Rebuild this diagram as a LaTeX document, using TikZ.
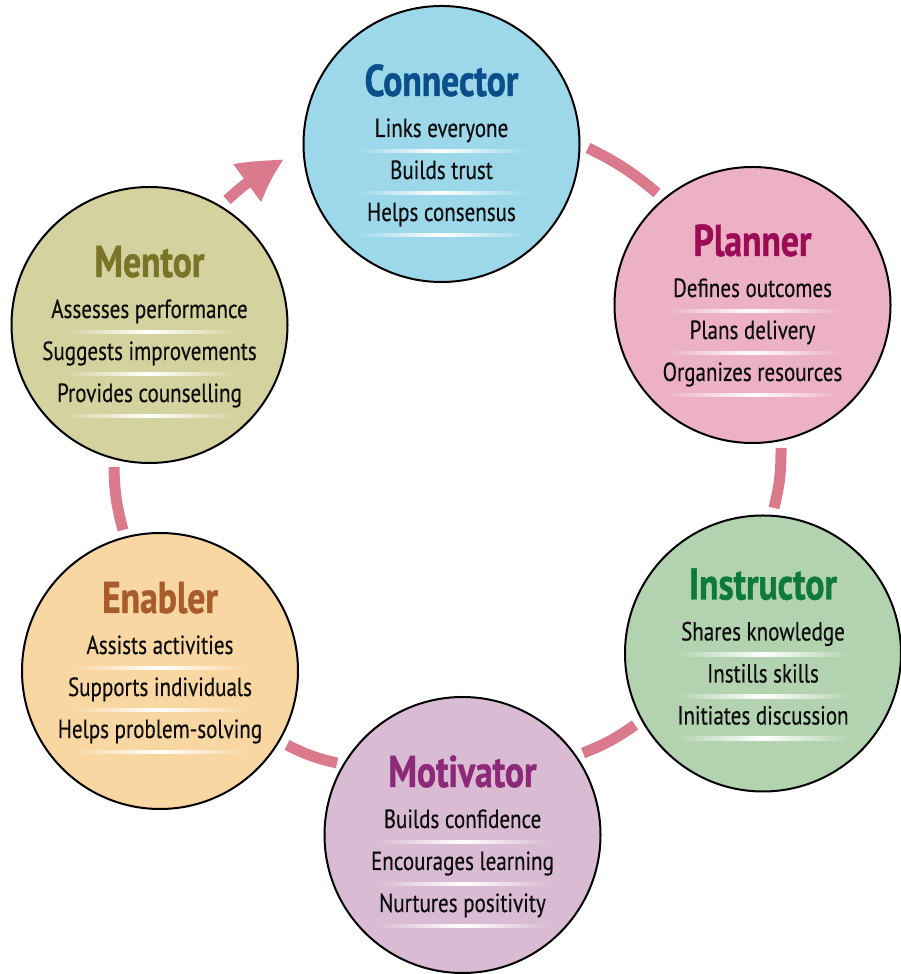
\documentclass[tikz,border=0pt]{standalone}
\usepackage{fontspec}
\setmainfont{PT Sans}[FakeStretch=0.8,FakeBold=0.35,BoldFeatures={FakeBold=1}]
\usetikzlibrary{arrows.meta,calc,bending}
\definecolor{linkpink}{HTML}{DB7A8C}
\definecolor{cfill}{HTML}{9DD7EA}
\definecolor{ctext}{HTML}{0B4F8A}
\definecolor{pfill}{HTML}{EDB1C6}
\definecolor{ptext}{HTML}{9C0C55}
\definecolor{ifill}{HTML}{B3D3B0}
\definecolor{itext}{HTML}{0E7A3A}
\definecolor{mofill}{HTML}{D9BBD3}
\definecolor{motext}{HTML}{8E2878}
\definecolor{efill}{HTML}{F9D7A2}
\definecolor{etext}{HTML}{A85C2C}
\definecolor{mefill}{HTML}{D4D29E}
\definecolor{metext}{HTML}{7A7428}
% #1 name, #2 centre, #3 vertical text offset, #4 fill, #5 title colour, #6 title, #7-#9 lines
\newcommand\rolecircle[9]{%
  \node[role,fill=#4] (#1) at #2 {};
  \node[roletitle,text=#5] (#1-t) at ($(#1)+(0,48+#3)$) {#6};
  \node[roleline] (#1-a) at ($(#1)+(0,7+#3)$) {#7};
  \node[roleline] (#1-b) at ($(#1)+(0,-35+#3)$) {#8};
  \node[roleline] (#1-c) at ($(#1)+(0,-77+#3)$) {#9};
  \foreach \sy in {-7,-49,-91}{
    \shade[left color=#4,right color=#4,middle color=white]
      ($(#1)+(-86,\sy+#3-1.6)$) rectangle ($(#1)+(86,\sy+#3+1.6)$);
  }%
}
\begin{document}
\begin{tikzpicture}[x=1pt,y=1pt,
  role/.style={circle,draw=black,line width=2pt,minimum size=276pt,inner sep=0pt},
  roletitle/.style={anchor=base,inner sep=0pt,font=\fontsize{44.5}{44.5}\selectfont\bfseries},
  roleline/.style={anchor=base,inner sep=0pt,text=black!95,font=\fontsize{26.3}{26.3}\selectfont},
  link/.style={draw=linkpink,line width=11pt},
]
\useasboundingbox (0,0) rectangle (901,974);
\rolecircle{conn}{(441.5,830)}{0}{cfill}{ctext}{Connector}{Links everyone}{Builds trust}{Helps consensus}
\rolecircle{plan}{(752.5,669)}{1}{pfill}{ptext}{Planner}{Defines outcomes}{Plans delivery}{Organizes resources}
\rolecircle{inst}{(763,320.5)}{6}{ifill}{itext}{Instructor}{Shares knowledge}{Instills skills}{Initiates discussion}
\rolecircle{moti}{(462.5,139)}{0}{mofill}{motext}{Motivator}{Builds confidence}{Encourages learning}{Nurtures positivity}
\rolecircle{enab}{(160,303)}{10}{efill}{etext}{Enabler}{Assists activities}{Supports individuals}{Helps problem-solving}
\rolecircle{ment}{(149.5,649)}{0}{mefill}{metext}{Mentor}{Assesses performance}{Suggests improvements}{Provides counselling}
% link end points
\coordinate (cp1) at (588,826);  \coordinate (cp2) at (657,781);
\coordinate (pi1) at (781,526);  \coordinate (pi2) at (774,466);
\coordinate (im1) at (635,249);  \coordinate (im2) at (583,221);
\coordinate (me1) at (337,211);  \coordinate (me2) at (287,229);
\coordinate (em1) at (123,444);  \coordinate (em2) at (114,507);
\coordinate (mc1) at (227,774);  \coordinate (mc2) at (285,815);
\draw[link] (cp1) to[bend left=7] (cp2);
\draw[link] (pi1) to[bend left=7] (pi2);
\draw[link] (im1) to[bend left=7] (im2);
\draw[link] (me1) to[bend left=7] (me2);
\draw[link] (em1) to[bend left=7] (em2);
\draw[link,-{Triangle[length=50pt,width=42pt,bend]}] (mc1) to[bend left=7] (mc2);
\end{tikzpicture}
\end{document}
